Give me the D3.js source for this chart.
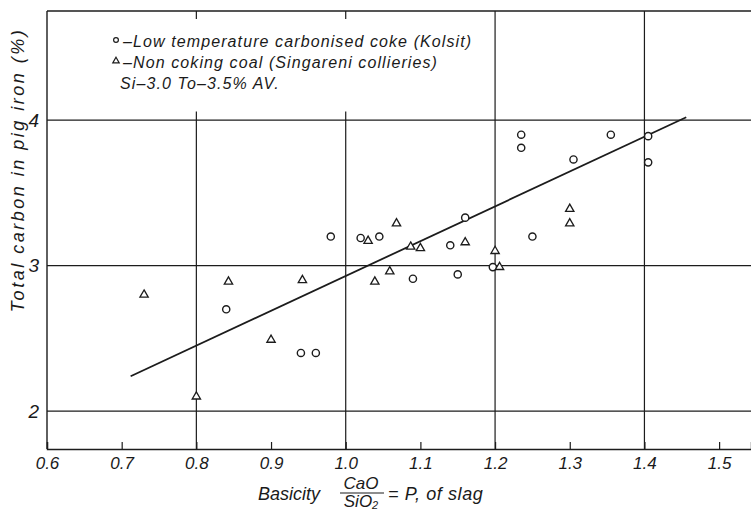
<!DOCTYPE html>
<html>
<head>
<meta charset="utf-8">
<script src="https://cdn.jsdelivr.net/npm/d3@7/dist/d3.min.js"></script>
<style>
  body { margin: 0; background: #fff; }
  text { font-family: "Liberation Sans", Arial, sans-serif; font-style: italic; fill: #1a1a1a; }
</style>
</head>
<body>
<div id="grafiek"></div>
<script>
// basicity (CaO/SiO2) and total carbon (%)
const kolsitX = [0.84, 0.94, 0.96, 0.98, 1.02, 1.045, 1.09, 1.14, 1.15, 1.16, 1.197, 1.235, 1.235, 1.25, 1.305, 1.355, 1.405, 1.405];
const kolsitY = [2.70, 2.40, 2.40, 3.20, 3.19, 3.20, 2.91, 3.14, 2.94, 3.33, 2.99, 3.90, 3.81, 3.20, 3.73, 3.90, 3.89, 3.71];

const singarenX = [0.73, 0.80, 0.843, 0.90, 0.942, 1.03, 1.039, 1.059, 1.068, 1.087, 1.10, 1.16, 1.20, 1.206, 1.30, 1.30];
const singarenY = [2.80, 2.10, 2.89, 2.49, 2.90, 3.17, 2.89, 2.96, 3.29, 3.13, 3.12, 3.16, 3.10, 2.99, 3.39, 3.29];

// fitted line end points
const lijnX = [0.712, 1.456];
const lijnY = [2.24, 4.02];

const xTicks = [0.6, 0.7, 0.8, 0.9, 1.0, 1.1, 1.2, 1.3, 1.4, 1.5];
const xTickLabels = ["0.6", "0.7", "0.8", "0.9", "1.0", "1.1", "1.2", "1.3", "1.4", "1.5"];
const xGrid = [0.8, 1.0, 1.2, 1.4];
const yTicks = [2, 3, 4];

const legendTexts = [
  "–Low temperature carbonised coke (Kolsit)",
  "–Non coking coal (Singareni collieries)",
  "Si–3.0 To–3.5% AV."
];

const width = 751;
const height = 513;

const svg = d3.select("#grafiek")
  .append("svg")
  .attr("width", width)
  .attr("height", height);

// schalen
const x = d3.scaleLinear().domain([0.6, 1.5427]).range([47, 751]);
const y = d3.scaleLinear().domain([1.74, 4.75]).range([449, 11]);

const ink = "#1c1c1c";

// kader: links en boven
svg.append("line")
  .attr("x1", x(0.6)).attr("x2", x(0.6))
  .attr("y1", y(4.75)).attr("y2", y(1.74))
  .attr("stroke", ink).attr("stroke-width", 1.4);
svg.append("line")
  .attr("x1", x(0.6)).attr("x2", width)
  .attr("y1", y(4.75)).attr("y2", y(4.75))
  .attr("stroke", ink).attr("stroke-width", 1.4);

// x-as met kleine tikjes naar boven
const xaxis = d3.axisBottom(x)
  .tickValues(xTicks)
  .tickSize(-7)
  .tickFormat((d, i) => xTickLabels[i]);
const g_xaxis = svg.append("g")
  .attr("transform", `translate(0,${y(1.74)})`)
  .call(xaxis);
g_xaxis.select(".domain").attr("stroke", ink).attr("stroke-width", 1.4);
g_xaxis.selectAll(".tick line").attr("stroke", ink).attr("stroke-width", 1.2);
g_xaxis.selectAll(".tick text")
  .attr("y", 8)
  .style("font-size", "17px")
  .style("font-family", "Liberation Sans, Arial, sans-serif")
  .style("font-style", "italic")
  .attr("fill", ink);

// y-as labels
const yaxis = d3.axisLeft(y).tickValues(yTicks).tickSize(0).tickFormat(d3.format("d"));
const g_yaxis = svg.append("g")
  .attr("transform", `translate(${x(0.6) - 5},0)`)
  .call(yaxis);
g_yaxis.select(".domain").remove();
g_yaxis.selectAll(".tick text")
  .style("font-size", "19px")
  .style("font-family", "Liberation Sans, Arial, sans-serif")
  .style("font-style", "italic")
  .attr("fill", ink);

// horizontale rasterlijnen
svg.append("g").selectAll("line")
  .data(yTicks)
  .join("line")
  .attr("x1", x(0.6)).attr("x2", width)
  .attr("y1", d => y(d)).attr("y2", d => y(d))
  .attr("stroke", ink).attr("stroke-width", 1.3);

// verticale rasterlijnen (0.8 en 1.0 onderbroken door legenda)
svg.append("g").selectAll("line")
  .data(xGrid)
  .join("line")
  .attr("x1", d => x(d)).attr("x2", d => x(d))
  .attr("y1", d => d < 1.1 ? y(4.06) : y(4.75))
  .attr("y2", y(1.74))
  .attr("stroke", ink).attr("stroke-width", 1.2);
svg.append("g").selectAll("line")
  .data(xGrid.filter(d => d < 1.1))
  .join("line")
  .attr("x1", d => x(d)).attr("x2", d => x(d))
  .attr("y1", y(4.75)).attr("y2", y(4.75) + 8)
  .attr("stroke", ink).attr("stroke-width", 1.2);

// lijn
svg.append("line")
  .attr("x1", x(lijnX[0])).attr("y1", y(lijnY[0]))
  .attr("x2", x(lijnX[1])).attr("y2", y(lijnY[1]))
  .attr("stroke", ink).attr("stroke-width", 1.8);

// punten
const kolsit = kolsitX.map((v, i) => ({ x: v, y: kolsitY[i] }));
const singaren = singarenX.map((v, i) => ({ x: v, y: singarenY[i] }));

const driehoek = d3.symbol().type(d3.symbolTriangle).size(30);

svg.append("g").selectAll("circle")
  .data(kolsit)
  .join("circle")
  .attr("cx", d => x(d.x))
  .attr("cy", d => y(d.y))
  .attr("r", 3.6)
  .attr("fill", "#fff")
  .attr("stroke", ink)
  .attr("stroke-width", 1.4);

svg.append("g").selectAll("path")
  .data(singaren)
  .join("path")
  .attr("d", driehoek)
  .attr("transform", d => `translate(${x(d.x)},${y(d.y)})`)
  .attr("fill", "#fff")
  .attr("stroke", ink)
  .attr("stroke-width", 1.3);

// legenda
const legend = svg.append("g");
legend.append("circle")
  .attr("cx", 116).attr("cy", 40).attr("r", 2.4)
  .attr("fill", "#fff").attr("stroke", ink).attr("stroke-width", 1.2);
legend.append("path")
  .attr("d", d3.symbol().type(d3.symbolTriangle).size(18))
  .attr("transform", "translate(116,61)")
  .attr("fill", "#fff").attr("stroke", ink).attr("stroke-width", 1.2);
legend.selectAll("text")
  .data(legendTexts)
  .join("text")
  .attr("x", (d, i) => i === 2 ? 120 : 123)
  .attr("y", (d, i) => 47 + i * 21)
  .style("font-size", "16px")
  .style("letter-spacing", "1.1px")
  .text(d => d);

// y-as titel
svg.append("text")
  .attr("transform", "translate(24,170) rotate(-90)")
  .attr("text-anchor", "middle")
  .style("font-size", "18px")
  .style("letter-spacing", "2.5px")
  .text("Total carbon in pig iron (%)");

// x-as titel met breuk
const titel = svg.append("g").style("font-size", "18px");
titel.append("text").attr("x", 258).attr("y", 500).text("Basicity");
titel.append("text").attr("x", 361).attr("y", 489).attr("text-anchor", "middle").style("font-size", "17px").text("CaO");
titel.append("line")
  .attr("x1", 340).attr("x2", 384).attr("y1", 493).attr("y2", 493)
  .attr("stroke", ink).attr("stroke-width", 1.2);
const sio = titel.append("text").attr("x", 361).attr("y", 507).attr("text-anchor", "middle").style("font-size", "17px");
sio.append("tspan").text("SiO");
sio.append("tspan").attr("dy", 1.5).style("font-size", "11px").text("2");
titel.append("text").attr("x", 388).attr("y", 500).style("letter-spacing", "0.6px").text("= P, of slag");
</script>
</body>
</html>
